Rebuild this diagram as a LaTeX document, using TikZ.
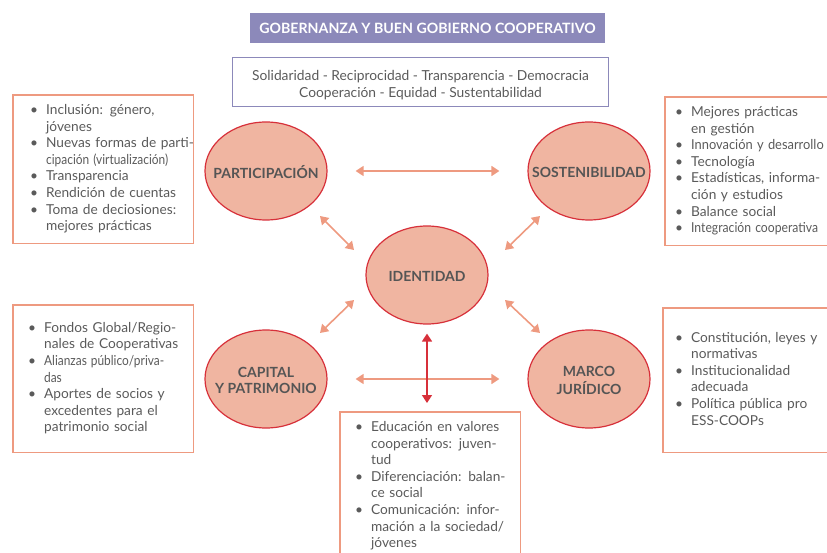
\documentclass[tikz,border=0pt]{standalone}
\usepackage{fontspec}
\setmainfont{Lato}
\usepackage{graphicx}
\usetikzlibrary{arrows.meta,shapes.geometric}

\definecolor{lilac}{HTML}{8C89BA}
\definecolor{salmon}{HTML}{EE9A80}
\definecolor{rosefill}{HTML}{F0B5A1}
\definecolor{ringred}{HTML}{D7303A}
\definecolor{txtgray}{HTML}{5A5A5A}
\definecolor{capgray}{HTML}{555555}

\newcommand{\blist}[1]{\noindent\begin{tabular}{@{}l@{\hspace{8pt}}l@{}}#1\end{tabular}}
\newcommand{\bul}{\textbullet}
\newcommand{\squeeze}[2][0.87]{\scalebox{#1}[1]{#2}}
\newcommand{\tlabel}[1]{\makebox[0pt]{\smash{\raisebox{-6.5pt}{\begin{tabular}{@{}c@{}}#1\end{tabular}}}}}

\tikzset{
  topic/.style={ellipse,draw=ringred,line width=1.2pt,fill=rosefill,minimum width=122pt,minimum height=98pt,inner sep=0pt,font=\fontsize{14}{16}\selectfont\bfseries,text=capgray},
  listbox/.style={anchor=north west,inner ysep=0pt,align=left,font=\fontsize{13.7}{16.6}\selectfont,text=txtgray},
  frame/.style={draw=salmon,line width=1.4pt},
  link/.style={draw=salmon,line width=1.6pt,{Triangle[width=10pt,length=8pt]}-{Triangle[width=10pt,length=8pt]}},
  redlink/.style={link,draw=ringred},
}

\begin{document}
\begin{tikzpicture}[x=1pt,y=-1pt]
\useasboundingbox (0,0) rectangle (827,553);

% header
\node [fill=lilac,minimum width=355pt,minimum height=30pt,text=white,font=\fontsize{14.2}{16}\selectfont\bfseries] (title) at (427.5,28) {GOBERNANZA Y BUEN GOBIERNO COOPERATIVO};
\node [minimum width=375pt,minimum height=48pt,align=center,text=txtgray,font=\fontsize{13.8}{16.4}\selectfont] (values) at (420.5,85) {Solidaridad - Reciprocidad - Transparencia - Democracia\\Cooperación - Equidad - Sustentabilidad};
\draw [draw=lilac,line width=1.2pt] ([yshift=3pt]values.north west) rectangle ([yshift=3pt]values.south east);

% ellipses
\node [topic] (partic) at (266,171) {\tlabel{PARTICIPACIÓN}};
\node [topic] (sost) at (589,171) {\tlabel{SOSTENIBILIDAD}};
\node [topic] (ident) at (427,275) {\tlabel{IDENTIDAD}};
\node [topic] (capital) at (266,379) {\tlabel{CAPITAL\\Y PATRIMONIO}};
\node [topic] (marco) at (589,379) {\tlabel{MARCO\\JURÍDICO}};

% lists
\node [listbox,inner xsep=17pt,text width=146pt,minimum height=148pt] (partlist) at (13,95) {\blist{
\bul & Inclusión: género,\\
 & jóvenes\\
\bul & Nuevas formas de parti-\\
 & \squeeze{cipación (virtualización)}\\
\bul & Transparencia\\
\bul & Rendición de cuentas\\
\bul & Toma de deciosiones:\\
 & mejores prácticas}};
\node [listbox,inner xsep=10pt,text width=170pt,minimum height=148pt] (sostlist) at (665,97) {\blist{
\bul & Mejores prácticas\\
 & en gestión\\
\bul & \squeeze[0.94]{Innovación y desarrollo}\\
\bul & Tecnología\\
\bul & Estadísticas, informa-\\
 & ción y estudios\\
\bul & Balance social\\
\bul & \squeeze[0.89]{Integración cooperativa}}};
\node [listbox,inner xsep=15pt,text width=150pt,minimum height=147pt] (caplist) at (13,305) {\blist{
\bul & Fondos Global/Regio-\\
 & nales de Cooperativas\\
\bul & \squeeze{Alianzas público/priva-}\\
 & \squeeze{das}\\
\bul & Aportes de socios y\\
 & excedentes para el\\
 & patrimonio social}};
\node [listbox,inner xsep=12pt,text width=170pt,minimum height=144pt] (marcolist) at (663,308) {\blist{
\bul & Constitución, leyes y\\
 & normativas\\
\bul & Institucionalidad\\
 & adecuada\\
\bul & Política pública pro\\
 & ESS-COOPs}};
\node [listbox,inner xsep=15pt,text width=150pt,minimum height=148pt] (edulist) at (340,412) {\blist{
\bul & Educación en valores\\
 & cooperativos: juven-\\
 & tud\\
\bul & Diferenciación: balan-\\
 & ce social\\
\bul & Comunicación: infor-\\
 & mación a la sociedad/\\
 & jóvenes}};
\foreach \b in {partlist,sostlist,caplist,marcolist,edulist}
  \draw [frame] (\b.north west) rectangle (\b.south east);

% arrows
\draw [link,shorten <=28pt,shorten >=28pt] (partic) -- (sost);
\draw [link,shorten <=28pt,shorten >=28pt] (capital) -- (marco);
\draw [link] ([shift={(54,45)}]partic.center) -- ([shift={(-73,-25)}]ident.center);
\draw [link] ([shift={(78,-25)}]ident.center) -- ([shift={(-49,45)}]sost.center);
\draw [link] ([shift={(54,-46)}]capital.center) -- ([shift={(-73,25)}]ident.center);
\draw [link] ([shift={(78,25)}]ident.center) -- ([shift={(-49,-46)}]marco.center);
\draw [redlink,shorten <=9pt,shorten >=9pt] (ident.south) -- (ident.south |- edulist.north);
\end{tikzpicture}
\end{document}
